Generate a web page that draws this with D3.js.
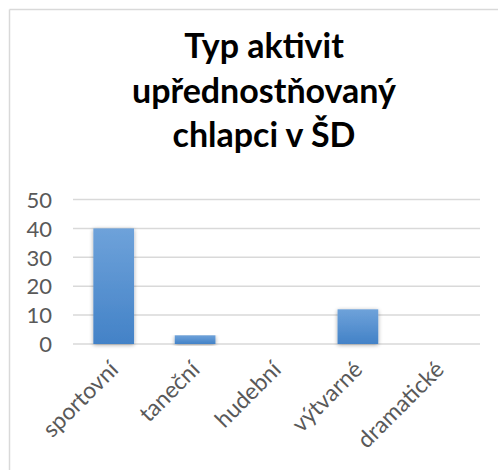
<!DOCTYPE html>
<html><head><meta charset="utf-8">
<script src="https://cdn.jsdelivr.net/npm/d3@7/dist/d3.min.js"></script>
<style>html,body{margin:0;padding:0;background:#fff;}svg{display:block;}</style>
</head><body>
<script>
const titleLines = ["Typ aktivit", "upřednostňovaný", "chlapci v ŠD"];
const categories = ["sportovní", "taneční", "hudební", "výtvarné", "dramatické"];
const values = [40, 3, 0, 12, 0];
const yTicks = [0, 10, 20, 30, 40, 50];

const W = 498, H = 470;
const svg = d3.select("body").append("svg").attr("width", W).attr("height", H);
const defs = svg.append("defs");
const grad = defs.append("linearGradient").attr("id", "bg").attr("x1", 0).attr("y1", 0).attr("x2", 0).attr("y2", 1);
grad.append("stop").attr("offset", "0%").attr("stop-color", "#6ea2da");
grad.append("stop").attr("offset", "100%").attr("stop-color", "#4382c7");
const f = defs.append("filter").attr("id", "sh").attr("x", "-30%").attr("y", "-10%").attr("width", "160%").attr("height", "125%");
f.append("feGaussianBlur").attr("in", "SourceAlpha").attr("stdDeviation", 2).attr("result", "b");
f.append("feOffset").attr("in", "b").attr("dx", 0).attr("dy", 1).attr("result", "o");
f.append("feComponentTransfer").attr("in", "o").attr("result", "o2").append("feFuncA").attr("type", "linear").attr("slope", 0.35);
const m = f.append("feMerge"); m.append("feMergeNode").attr("in", "o2"); m.append("feMergeNode").attr("in", "SourceGraphic");

// chart border (top and left visible)
svg.append("line").attr("x1", 9.5).attr("x2", W).attr("y1", 9.5).attr("y2", 9.5).attr("stroke", "#d9d9d9").attr("stroke-width", 1.5);
svg.append("line").attr("x1", 9.5).attr("x2", 9.5).attr("y1", 9.5).attr("y2", H).attr("stroke", "#d9d9d9").attr("stroke-width", 1.5);

// title
const title = svg.append("text").attr("text-anchor", "middle").attr("font-family", "Lato, 'Open Sans', sans-serif").attr("font-weight", "bold").attr("font-size", 34).attr("fill", "#000");
titleLines.forEach((t, i) => title.append("tspan").attr("x", 264).attr("y", 58 + i * 44.5).text(t));

const pLeft = 73, pRight = 480, pTop = 199.5, pBottom = 344;
const x = d3.scaleBand().domain(categories).range([pLeft, pRight]).paddingInner(0.5).paddingOuter(0.25);
const y = d3.scaleLinear().domain([0, 50]).range([pBottom, pTop]);

// gridlines
svg.append("g").selectAll("line").data(yTicks).join("line")
  .attr("x1", pLeft).attr("x2", pRight).attr("y1", d => y(d)).attr("y2", d => y(d))
  .attr("stroke", "#d9d9d9").attr("stroke-width", 1.5);

// y axis labels
const yAxis = d3.axisLeft(y).tickValues(yTicks).tickSize(0).tickPadding(0);
const ya = svg.append("g").attr("transform", `translate(52,0)`).call(yAxis);
ya.select(".domain").remove();
ya.selectAll("text").attr("font-family", "Lato, 'Open Sans', sans-serif").attr("font-size", 22).attr("fill", "#595959").attr("dy", "0.35em");

// bars
svg.append("g").selectAll("rect").data(categories.map((c, i) => ({c, v: values[i]})).filter(d => d.v > 0)).join("rect")
  .attr("x", d => x(d.c)).attr("width", x.bandwidth())
  .attr("y", d => y(d.v)).attr("height", d => y(0) - y(d.v))
  .attr("fill", "url(#bg)").attr("filter", "url(#sh)");

// x axis labels
const xAxis = d3.axisBottom(x).tickSize(0).tickPadding(0);
const xa = svg.append("g").attr("transform", `translate(0,${pBottom})`).call(xAxis);
xa.select(".domain").remove();
xa.selectAll("text").attr("font-family", "Lato, 'Open Sans', sans-serif").attr("font-size", 23).attr("fill", "#595959")
  .attr("text-anchor", "end").attr("dy", null).attr("y", 0)
  .attr("transform", "translate(6,27) rotate(-45)");
</script>
</body></html>
